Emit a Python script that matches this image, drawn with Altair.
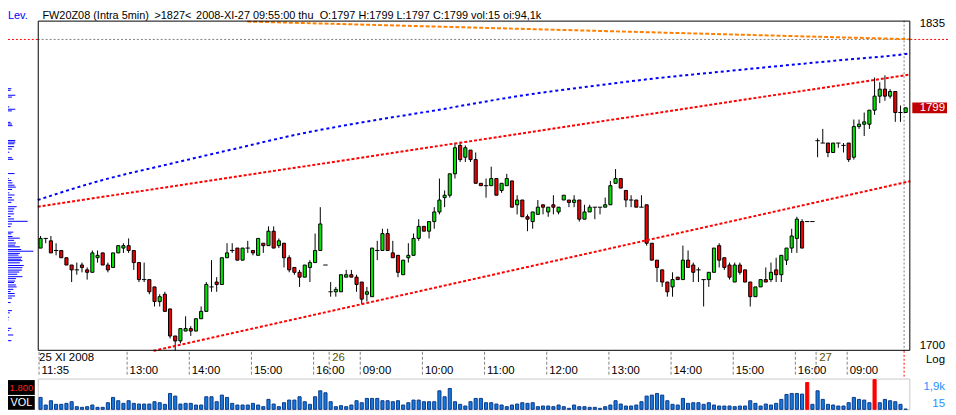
import altair as alt
import pandas as pd

FONT = "Liberation Sans"
GREEN = "#00E600"
RED = "#EE0000"

# ---------------- data ----------------
bar_open = [1740,1744,1743,1739,1739,1736,1733,1731,1733,1731,
            1730,1736,1738,1733,1732,1738,1740,1741,1739,1734,
            1727,1727,1724,1718,1721,1715,1704,1702,1706,1707,
            1706,1711,1714,1724,1726,1725,1736,1739,1740,1735,
            1740,1739,1737,1742,1741,1747,1741,1742,1736,1732,
            1730,1728,1732,1734,1739,1733,1722,1722,1722,1728,
            1729,1728,1726,1721,1720,1739,1739,1746,1738,1737,
            1729,1736,1737,1744,1749,1747,1751,1755,1761,1762,
            1771,1783,1778,1781,1777,1767,1766,1766,1769,1764,
            1766,1768,1758,1760,1753,1751,1754,1758,1755,1758,
            1755,1760,1760,1759,1760,1752,1755,1757,1757,1757,
            1758,1767,1769,1764,1760,1760,1757,1758,1742,1735,
            1731,1726,1724,1728,1727,1735,1733,1731,1727,1727,
            1730,1741,1736,1733,1726,1733,1731,1726,1720,1724,
            1727,1727,1731,1729,1735,1740,1744,1751,1751,1751,
            1785,1784,1784,1780,1784,1783,1784,1778,1791,1792,
            1792,1798,1804,1807,1804,1806,1797,1797]
bar_high = [1745,1744,1745,1742,1739,1736,1733,1734,1734,1732,
            1739,1739,1738,1734,1738,1741,1742,1744,1739,1734,
            1734,1727,1724,1721,1722,1715,1704,1707,1712,1708,
            1711,1716,1726,1735,1728,1736,1742,1742,1740,1740,
            1743,1739,1744,1742,1749,1749,1744,1742,1737,1732,
            1731,1733,1735,1746,1757,1733,1726,1724,1729,1731,
            1731,1729,1726,1724,1740,1743,1748,1748,1743,1737,
            1735,1742,1746,1752,1749,1751,1757,1769,1764,1771,
            1784,1784,1783,1781,1780,1767,1769,1774,1769,1767,
            1771,1768,1762,1760,1754,1755,1760,1758,1757,1762,
            1757,1762,1760,1762,1760,1758,1758,1757,1757,1761,
            1768,1773,1769,1764,1762,1760,1762,1758,1742,1735,
            1731,1726,1730,1728,1741,1739,1734,1732,1727,1730,
            1740,1742,1736,1734,1734,1734,1731,1726,1724,1727,
            1732,1734,1736,1737,1740,1748,1753,1752,1751,1751,
            1786,1790,1784,1784,1784,1784,1784,1794,1794,1797,
            1798,1812,1810,1813,1807,1806,1800,1799]
bar_low = [1740,1742,1738,1737,1736,1733,1726,1729,1730,1727,
           1730,1734,1733,1730,1732,1738,1738,1738,1731,1726,
           1726,1721,1716,1716,1714,1703,1698,1701,1706,1704,
           1706,1711,1714,1722,1722,1725,1736,1738,1735,1735,
           1738,1737,1737,1738,1741,1740,1740,1732,1730,1729,
           1724,1728,1726,1734,1739,1733,1720,1720,1722,1728,
           1728,1722,1717,1718,1720,1735,1739,1739,1736,1728,
           1729,1734,1737,1743,1747,1744,1748,1754,1757,1761,
           1769,1776,1776,1776,1767,1766,1761,1766,1762,1763,
           1766,1757,1754,1753,1747,1748,1754,1754,1753,1754,
           1754,1760,1757,1757,1751,1752,1755,1752,1754,1757,
           1758,1767,1765,1757,1757,1757,1757,1741,1735,1726,
           1724,1720,1720,1727,1727,1732,1726,1726,1716,1724,
           1730,1732,1731,1727,1726,1729,1726,1716,1720,1724,
           1726,1726,1726,1726,1733,1738,1738,1740,1751,1751,
           1778,1784,1778,1780,1782,1780,1776,1777,1790,1787,
           1790,1796,1801,1802,1803,1793,1793,1797]
bar_close = [1744,1744,1738,1739,1736,1733,1731,1731,1732,1730,
             1738,1737,1733,1731,1738,1741,1741,1739,1734,1727,
             1727,1722,1718,1720,1714,1704,1702,1707,1707,1706,
             1711,1714,1725,1724,1725,1736,1738,1739,1735,1740,
             1740,1738,1744,1741,1747,1740,1743,1736,1731,1730,
             1728,1733,1734,1739,1750,1733,1722,1723,1729,1729,
             1728,1725,1719,1722,1740,1739,1746,1739,1736,1730,
             1735,1737,1744,1749,1747,1751,1755,1760,1762,1771,
             1782,1777,1782,1777,1767,1766,1766,1769,1762,1767,
             1769,1757,1760,1753,1752,1755,1757,1757,1757,1757,
             1757,1762,1759,1760,1752,1755,1757,1757,1757,1758,
             1766,1769,1765,1760,1760,1757,1757,1742,1735,1732,
             1726,1722,1727,1727,1735,1732,1730,1731,1727,1730,
             1740,1735,1732,1728,1733,1730,1726,1720,1724,1727,
             1726,1730,1729,1737,1740,1745,1752,1740,1751,1751,
             1785,1784,1780,1784,1784,1783,1777,1791,1792,1793,
             1798,1804,1807,1804,1806,1797,1797,1799]
volume = [845,305,610,352,352,422,540,188,141,188,
          305,141,141,469,845,610,422,610,422,375,
          375,375,540,469,352,1126,939,375,422,422,
          305,305,892,892,540,1009,845,422,305,305,
          305,422,305,188,704,375,188,469,657,657,
          892,540,352,892,1314,1173,540,188,258,188,
          305,610,469,774,774,774,610,610,540,610,
          305,469,657,657,540,540,540,1314,892,1478,
          540,352,235,540,774,774,469,469,375,305,
          188,305,375,469,422,469,188,235,235,188,
          305,188,70,305,188,188,141,141,70,188,
          305,610,375,235,235,305,540,939,1009,1126,
          1009,610,352,305,774,422,469,469,352,469,
          305,235,235,235,188,235,235,610,422,235,
          375,305,422,704,1056,1126,1126,1080,1901,352,
          1314,704,352,305,235,235,469,845,704,657,
          469,2112,469,704,610,540,352,15]

tick_bars = [0, 17, 29, 41, 53, 62, 74, 86, 98, 110, 122, 134, 146, 156]
tick_labels = ["11:35", "13:00", "14:00", "15:00", "16:00", "09:00", "10:00",
               "11:00", "12:00", "13:00", "14:00", "15:00", "16:00", "09:00"]
day_bars = [0, 56, 150]
day_labels = ["25 XI 2008", "26", "27"]

blue_bars = [-0.54, 11.85, 24.6, 37.4, 50.1, 62.9, 75.6, 93.0, 105.7, 118.5, 131.3, 144.0, 156.8, 167.0, 167.9]
blue_prices = [1760.0, 1768.3, 1775.0, 1781.5, 1787.9, 1793.1, 1797.7, 1804.3, 1808.1, 1811.6, 1814.5, 1817.3, 1820.0, 1822.2, 1822.5]
upper_bars = [-0.54, 167.9]
upper_prices = [1757.2, 1813.3]
lower_bars = [21.8, 167.9]
lower_prices = [1698.0, 1767.9]
orange_bars = [39.9, 167.9]
orange_prices = [1836.3, 1828.6]

level_prices = [1807.2, 1806.5, 1804.4, 1803.6, 1799.4, 1798.4, 1797.7, 1792.8, 1792.1, 1791.4,
                1785.1, 1784.4, 1783.7, 1782.5, 1781.5, 1780.1, 1777.8, 1777.1, 1771.1, 1769.0,
                1768.2, 1767.2, 1766.2, 1765.4, 1764.4, 1763.0, 1762.1, 1761.0, 1760.0, 1759.0,
                1757.2, 1756.3, 1755.3, 1754.2, 1753.1, 1752.1, 1751.1, 1750.0, 1748.9, 1746.6,
                1745.9, 1744.8, 1744.1, 1743.2, 1742.1, 1741.2, 1740.5, 1739.4, 1738.7, 1737.8,
                1737.1, 1736.2, 1735.4, 1734.8, 1733.9, 1732.8, 1731.9, 1730.9, 1730.1, 1729.2,
                1728.2, 1727.4, 1726.4, 1725.8, 1724.8, 1724.0, 1723.0, 1722.1, 1721.3, 1720.3,
                1719.4, 1717.6, 1714.3, 1713.4, 1711.6, 1710.5, 1707.1, 1706.2, 1704.4, 1702.1]
level_sizes = [4.3, 3.3, 9.3, 5, 1.7, 9.3, 5, 3.3, 5, 5.7,
               9.3, 9.3, 8.3, 7.7, 5, 1.7, 5, 6.7, 8.3, 1,
               4.3, 5.7, 8.3, 10, 5, 1.7, 8.3, 5, 7.7, 4.3,
               11, 8, 6.7, 7.7, 3.3, 7.7, 25, 5, 3.3, 6.7,
               4.3, 5.7, 15, 7.7, 10, 9, 15, 16.7, 32.3, 15,
               13.3, 17.7, 16.7, 18.3, 15, 20, 18.3, 17.7, 14.3, 11.7,
               18.3, 10, 9, 7.7, 10, 11, 6.7, 3.3, 8.3, 9,
               5, 3.3, 5, 2.3, 1, 0.5, 4.3, 1.7, 6.7, 4.3]

cross_bar = 166.7
cross_price = 1828.5
last_price = 1799
price_labels = [1835, 1700]

# ---------------- frames ----------------
df = pd.DataFrame({"i": list(range(len(bar_open))), "o": bar_open, "h": bar_high,
                   "l": bar_low, "c": bar_close, "v": volume})
one = pd.DataFrame({"a": [0]})

xs = alt.Scale(domain=[-0.54, 167.9], range=[30, 910], nice=False, zero=False)
ys = alt.Scale(type="log", domain=[1698.0, 1836.7], range=[344, 11], nice=False)
vs = alt.Scale(domain=[0, 2112], range=[403, 373], nice=False, zero=False)
ls = alt.Scale(domain=[0, 34], range=[0, 27], nice=False, zero=False)


def X(f):
    return alt.X(f, type="quantitative", scale=xs, axis=None)


def Y(f):
    return alt.Y(f, type="quantitative", scale=ys, axis=None)


def txt(s, x, y, color="black", align="left", size=11, baseline="middle"):
    return alt.Chart(one).mark_text(text=s, align=align, baseline=baseline, fontSize=size,
                                    font=FONT, color=color).encode(x=alt.value(x), y=alt.value(y))


def box(x1, x2, y1, y2, **kw):
    return alt.Chart(one).mark_rect(**kw).encode(x=alt.value(x1), x2=alt.value(x2),
                                                y=alt.value(y1), y2=alt.value(y2))


def line_chart(bars, prices, color, dash, width, interp="linear"):
    d = pd.DataFrame({"b": bars, "p": prices})
    return alt.Chart(d).mark_line(color=color, strokeDash=dash, strokeWidth=width,
                                  interpolate=interp).encode(x=X("b"), y=Y("p"))


layers = []

# level (volume-at-price) panel
lv = pd.DataFrame({"p": level_prices, "s": level_sizes})
layers.append(alt.Chart(lv).transform_calculate(z="0").mark_rule(color="#0000FF", strokeWidth=1).encode(
    x=alt.X("z:Q", scale=ls, axis=None), x2="s:Q", y=Y("p")))

# crosshair
ch = pd.DataFrame({"b": [cross_bar], "p": [cross_price]})
layers.append(alt.Chart(ch).mark_rule(color="#808080", strokeDash=[2, 2]).encode(
    y=Y("p"), x=alt.value(30), x2=alt.value(910)))
layers.append(alt.Chart(ch).mark_rule(color="#FF0000", strokeDash=[2, 2]).encode(
    y=Y("p"), x=alt.value(0), x2=alt.value(30)))
layers.append(alt.Chart(ch).mark_rule(color="#FF0000", strokeDash=[2, 2]).encode(
    y=Y("p"), x=alt.value(910), x2=alt.value(948)))
layers.append(alt.Chart(ch).mark_rule(color="#808080", strokeDash=[2, 2]).encode(
    x=X("b"), y=alt.value(11), y2=alt.value(344)))
layers.append(alt.Chart(ch).mark_rule(color="#FF0000", strokeDash=[2, 2]).encode(
    x=X("b"), y=alt.value(344), y2=alt.value(372)))

# candles
layers.append(alt.Chart(df).mark_rule(color="black", strokeWidth=1).encode(
    x=X("i"), y=Y("l"), y2="h:Q"))
layers.append(alt.Chart(df).transform_filter("datum.o != datum.c").transform_calculate(
    xa="datum.i - 0.3", xb="datum.i + 0.3").mark_rect(stroke="black", strokeWidth=1).encode(
    x=X("xa"), x2="xb:Q", y=Y("o"), y2="c:Q",
    fill=alt.condition("datum.c > datum.o", alt.value(GREEN), alt.value(RED))))
layers.append(alt.Chart(df).transform_filter("datum.o == datum.c").transform_calculate(
    xa="datum.i - 0.42", xb="datum.i + 0.42").mark_rule(color="black", strokeWidth=1).encode(
    x=X("xa"), x2="xb:Q", y=Y("o")))

# trend lines / indicators
layers.append(line_chart(orange_bars, orange_prices, "#FF8000", [4, 2], 2))
layers.append(line_chart(blue_bars, blue_prices, "#0000FF", [3, 3], 2, "monotone"))
layers.append(line_chart(upper_bars, upper_prices, "#FF0000", [3, 2], 2))
layers.append(line_chart(lower_bars, lower_prices, "#FF0000", [3, 2], 2))

# main frame
layers.append(box(30.5, 909.5, 11.5, 343.5, fillOpacity=0, stroke="black", strokeWidth=1))

# time axis
sep = pd.DataFrame({"b": tick_bars + day_bars[1:]})
layers.append(alt.Chart(sep).mark_rule(color="#808080", strokeDash=[3, 2], xOffset=-1.5).encode(
    x=X("b"), y=alt.value(345), y2=alt.value(370)))
tl = pd.DataFrame({"b": tick_bars, "t": tick_labels})
layers.append(alt.Chart(tl).mark_text(align="left", baseline="middle", dx=1, fontSize=11.5,
                                      font=FONT, color="black").encode(
    x=X("b"), y=alt.value(364), text="t:N"))
dl0 = pd.DataFrame({"b": day_bars[:1], "t": day_labels[:1]})
layers.append(alt.Chart(dl0).mark_text(align="left", baseline="middle", dx=-1.5, fontSize=11.5,
                                       font=FONT, color="black").encode(
    x=X("b"), y=alt.value(351), text="t:N"))
dl1 = pd.DataFrame({"b": day_bars[1:], "t": day_labels[1:]})
layers.append(alt.Chart(dl1).mark_text(align="left", baseline="middle", dx=1.6, fontSize=11.5,
                                       font=FONT, color="#5C5200").encode(
    x=X("b"), y=alt.value(351), text="t:N"))

# volume panel
layers.append(box(30.5, 909.5, 372.5, 403.5, fillOpacity=0, stroke="#C8C8C8", strokeWidth=1))
layers.append(alt.Chart(df).transform_calculate(xa="datum.i - 0.3", xb="datum.i + 0.3", z="0").mark_rect(
    strokeWidth=1).encode(
    x=X("xa"), x2="xb:Q", y=alt.Y("v:Q", scale=vs, axis=None), y2="z:Q",
    fill=alt.condition("datum.v > 1800", alt.value("#FF0000"), alt.value("#1478DC")),
    stroke=alt.condition("datum.v > 1800", alt.value("#FF0000"), alt.value("#0B3A8A"))))

# right price labels
pl = pd.DataFrame({"p": price_labels, "t": [str(p) for p in price_labels]})
layers.append(alt.Chart(pl).mark_text(align="right", baseline="middle", fontSize=11.5, font=FONT,
                                      color="black").encode(x=alt.value(945), y=Y("p"), text="t:N"))
lp = pd.DataFrame({"p": [last_price], "t": [str(last_price)]})
layers.append(alt.Chart(lp).mark_tick(orient="horizontal", size=35, thickness=11, color="#C00000",
                                      opacity=1).encode(x=alt.value(929.5), y=Y("p")))
layers.append(alt.Chart(lp).mark_text(align="right", baseline="middle", fontSize=11.5, font=FONT,
                                      color="white").encode(x=alt.value(945), y=Y("p"), text="t:N"))
layers.append(txt("Log", 945, 353, align="right", size=11.5))
layers.append(txt("1,9k", 945, 380.5, color="#1E90FF", align="right", size=11.5))
layers.append(txt("15", 945, 397.5, color="#1E90FF", align="right", size=11.5))

# left volume boxes
layers.append(box(0, 27, 373.5, 388.5, fill="black"))
layers.append(box(0, 27, 389.5, 403.5, fill="black"))
layers.append(txt("1.800", 13.5, 381.5, color="#FF2020", align="center", size=9.5))
layers.append(txt("VOL", 13.5, 397, color="white", align="center", size=11))

# header
hb = 9
layers.append(txt("Lev.", 0, hb, color="#0000FF", baseline="alphabetic"))
layers.append(txt("FW20Z08 (Intra 5min)", 34.7, hb, baseline="alphabetic"))
layers.append(txt(">1827<", 147.7, hb, baseline="alphabetic"))
layers.append(txt("2008-XI-27", 189.7, hb, baseline="alphabetic"))
layers.append(txt("09:55:00 thu", 247, hb, baseline="alphabetic"))
layers.append(txt("O:1797 H:1799 L:1797 C:1799 vol:15 oi:94,1k", 314.3, hb, baseline="alphabetic"))

chart = alt.layer(*layers).resolve_scale(x="independent", y="independent").properties(
    width=948, height=407, padding=0, autosize="none", background="white"
).configure_view(stroke=None)

chart.save("out.html", embed_options={"renderer": "svg", "actions": False})
